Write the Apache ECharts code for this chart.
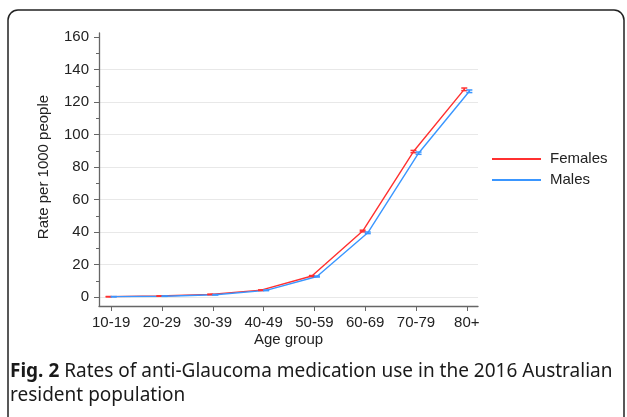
<!DOCTYPE html>
<html>
<head>
<meta charset="utf-8">
<script src="https://cdn.jsdelivr.net/npm/echarts@6/dist/echarts.min.js"></script>
<style>
  html, body { margin: 0; padding: 0; background: #fff; }
  #chart { width: 627px; height: 417px; }
</style>
</head>
<body>
<div id="chart"></div>
<script>
// Age groups on the x axis
const categories = ['10-19', '20-29', '30-39', '40-49', '50-59', '60-69', '70-79', '80+'];
// Rate per 1000 people, by sex
const femaleRate = [0.2, 0.6, 1.6, 4.2, 12.9, 40.6, 89.5, 127.8];
const maleRate   = [0.2, 0.5, 1.4, 4.1, 12.6, 39.5, 88.5, 126.6];
// Half-width of the confidence intervals
const femaleErr  = [0.1, 0.1, 0.15, 0.2, 0.3, 0.5, 0.7, 0.8];
const maleErr    = [0.1, 0.1, 0.15, 0.2, 0.3, 0.5, 0.7, 0.8];
// Axis tick positions
const yTicks = [0, 20, 40, 60, 80, 100, 120, 140, 160];
const xTicks = categories.map((c, i) => i);

const RED = '#ff3030';
const BLUE = '#3a96ff';
const DODGE = 0.05;     // small horizontal shift so both series stay visible
const FONT = 'Liberation Sans, Arial, sans-serif';

const lineData = (vals, d) => vals.map((v, i) => [i + d, v]);
const errData = (vals, errs, d) => vals.map((v, i) => [i + d, v - errs[i], v + errs[i]]);

function errorBar(color) {
  return function (params, api) {
    const x = api.value(0);
    const lo = api.coord([x, api.value(1)]);
    const hi = api.coord([x, api.value(2)]);
    const w = 3;
    const st = { stroke: color, lineWidth: 1.5 };
    return {
      type: 'group',
      children: [
        { type: 'line', shape: { x1: lo[0], y1: lo[1], x2: hi[0], y2: hi[1] }, style: st },
        { type: 'line', shape: { x1: lo[0] - w, y1: lo[1], x2: lo[0] + w, y2: lo[1] }, style: st },
        { type: 'line', shape: { x1: hi[0] - w, y1: hi[1], x2: hi[0] + w, y2: hi[1] }, style: st }
      ]
    };
  };
}

const axisColor = '#666';
const chart = echarts.init(document.getElementById('chart'), null, { renderer: 'canvas' });

chart.setOption({
  animation: false,
  textStyle: { fontFamily: FONT },
  graphic: [{
    type: 'rect',
    shape: { x: 8, y: 10, width: 616, height: 500, r: 10 },
    style: { fill: 'none', stroke: '#222', lineWidth: 1.5 },
    silent: true
  }],
  title: {
    left: 5, top: 355,
    text: '{b|Fig. 2} {n|Rates of anti-Glaucoma medication use in the 2016 Australian}\n{n|resident population}',
    textStyle: {
      fontWeight: 'normal',
      rich: {
        b: { fontFamily: 'Noto Sans', fontWeight: 'bold', fontSize: 19, color: '#1a1a1a', lineHeight: 24 },
        n: { fontFamily: 'Noto Sans', fontWeight: 'normal', fontSize: 19, color: '#1a1a1a', lineHeight: 24 }
      }
    }
  },
  legend: {
    data: ['Females', 'Males'],
    orient: 'vertical',
    left: 487, top: 146,
    icon: 'rect',
    itemWidth: 49, itemHeight: 2, itemGap: 5,
    textStyle: { fontSize: 15, color: '#222', fontFamily: FONT, padding: [0, 0, 0, 4], lineHeight: 16 }
  },
  grid: [
    { left: 99, right: 149, top: 33, bottom: 111 },
    { left: 99, right: 149, top: 37, bottom: 120 }
  ],
  xAxis: [
    {
      gridIndex: 0, type: 'value', min: 0, max: 1,
      axisLine: { show: true, onZero: false, lineStyle: { color: axisColor, width: 1.3 } },
      axisTick: { show: false }, axisLabel: { show: false }, splitLine: { show: false },
      name: 'Age group', nameLocation: 'middle', nameGap: 26,
      nameTextStyle: { fontSize: 15, color: '#222', fontFamily: FONT }
    },
    {
      gridIndex: 1, type: 'value', min: -0.24, max: 7.22, offset: 9,
      axisLine: { show: false, onZero: false },
      axisTick: { show: true, length: 5, customValues: xTicks, lineStyle: { color: axisColor } },
      axisLabel: {
        customValues: xTicks, margin: 9, fontSize: 15, color: '#222', fontFamily: FONT,
        formatter: v => categories[Math.round(v)]
      },
      splitLine: { show: false }
    }
  ],
  yAxis: [
    {
      gridIndex: 0, type: 'value', min: 0, max: 1,
      axisLine: { show: true, onZero: false, lineStyle: { color: axisColor, width: 1.3 } },
      axisTick: { show: false }, axisLabel: { show: false }, splitLine: { show: false }
    },
    {
      gridIndex: 1, type: 'value', min: 0, max: 160, interval: 20,
      axisLine: { show: false, onZero: false },
      axisTick: { show: true, length: 5, lineStyle: { color: axisColor } },
      minorTick: { show: true, splitNumber: 2, length: 3, lineStyle: { color: axisColor } },
      axisLabel: { margin: 10, fontSize: 15, color: '#222', fontFamily: FONT },
      splitLine: { show: true, showMaxLine: false, lineStyle: { color: '#e8e8e8', width: 1.2 } },
      name: 'Rate per 1000 people', nameLocation: 'middle', nameGap: 48,
      nameTextStyle: { fontSize: 15, color: '#222', fontFamily: FONT }
    }
  ],
  series: [
    {
      name: 'Females', type: 'line', xAxisIndex: 1, yAxisIndex: 1,
      data: lineData(femaleRate, -DODGE), symbol: 'none',
      color: RED, lineStyle: { color: RED, width: 1.4 }, z: 3
    },
    {
      name: 'Males', type: 'line', xAxisIndex: 1, yAxisIndex: 1,
      data: lineData(maleRate, DODGE), symbol: 'none',
      color: BLUE, lineStyle: { color: BLUE, width: 1.4 }, z: 4
    },
    {
      type: 'custom', xAxisIndex: 1, yAxisIndex: 1, z: 5,
      renderItem: errorBar(RED), encode: { x: 0, y: [1, 2] },
      data: errData(femaleRate, femaleErr, -DODGE)
    },
    {
      type: 'custom', xAxisIndex: 1, yAxisIndex: 1, z: 6,
      renderItem: errorBar(BLUE), encode: { x: 0, y: [1, 2] },
      data: errData(maleRate, maleErr, DODGE)
    }
  ]
});
</script>
</body>
</html>
